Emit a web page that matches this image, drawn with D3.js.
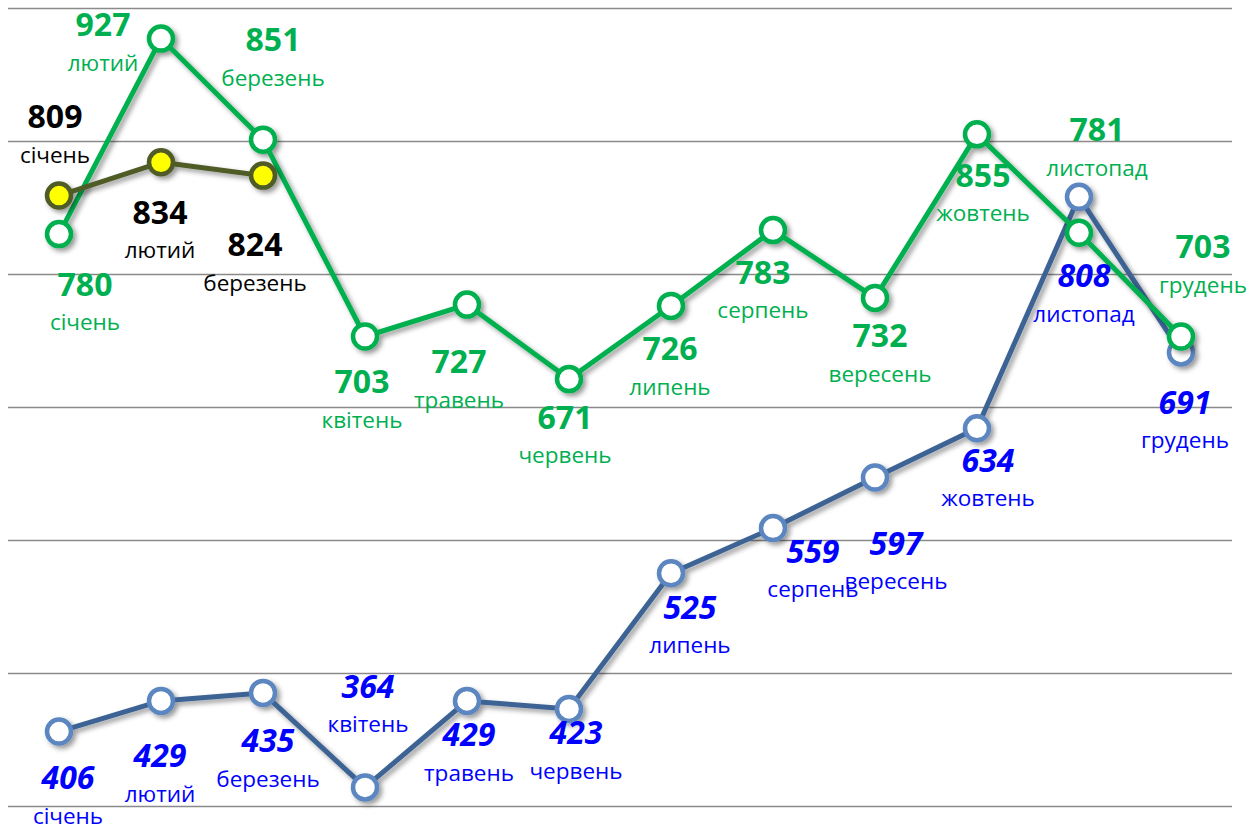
<!DOCTYPE html>
<html>
<head>
<meta charset="utf-8">
<script src="https://cdn.jsdelivr.net/npm/d3@7"></script>
<style>
  body { margin: 0; background: #fff; }
  svg { display: block; font-family: "Open Sans", "Noto Sans", sans-serif; }
</style>
</head>
<body>
<svg class="chart"></svg>
<script>
var width = 1258
var height = 832

// data
var months = ['січень', 'лютий', 'березень', 'квітень', 'травень', 'червень',
  'липень', 'серпень', 'вересень', 'жовтень', 'листопад', 'грудень']
var greenValues = [780, 927, 851, 703, 727, 671, 726, 783, 732, 855, 781, 703]
var blueValues = [406, 429, 435, 364, 429, 423, 525, 559, 597, 634, 808, 691]
var yellowValues = [809, 834, 824]
var gridTicks = [350, 450, 550, 650, 750, 850, 950]

// where each label sits relative to its marker (dx, dy of the number)
var greenLabelPos = [[26, 50], [-58, -14], [10, -100], [-3, 45], [-8, 57], [-4, 38],
  [-1, 43], [-10, 42], [5, 38], [6, 41], [18, -103], [22, -90]]
var blueLabelPos = [[9, 46], [-1, 55], [5, 48], [3, -101], [2, 34], [7, 24],
  [19, 34], [40, 23], [21, 66], [11, 32], [5, 79], [4, 50]]
var yellowLabelPos = [[-4, -79], [-1, 50], [-8, 69]]

var svg = d3.select('.chart')
  .attr('width', width)
  .attr('height', height)

var defs = svg.append('defs')
var f = defs.append('filter').attr('id', 'shadow')
  .attr('x', '-20%').attr('y', '-20%').attr('width', '140%').attr('height', '140%')
f.append('feDropShadow')
  .attr('dx', 3).attr('dy', 3).attr('stdDeviation', 2.5)
  .attr('flood-color', '#000').attr('flood-opacity', 0.4)

var x = d3.scaleBand().domain(months).range([8, 1232])
var y = d3.scaleLinear().domain([350, 950]).range([806, 8])
var cx = function (i) { return x(months[i]) + x.bandwidth() / 2 }

// gridlines
var grid = svg.append('g')
  .attr('transform', 'translate(8,0)')
  .call(d3.axisLeft(y).tickValues(gridTicks).tickSize(-1224).tickFormat(''))
grid.select('.domain').remove()
grid.selectAll('line').attr('stroke', '#8a8a8a').attr('stroke-width', 1.6)

var line = d3.line()
  .x(function (d, i) { return cx(i) })
  .y(function (d) { return y(d) })

function drawSeries(values, lineColor, markerStroke, markerFill) {
  var g = svg.append('g').attr('filter', 'url(#shadow)')
  g.append('path')
    .datum(values)
    .attr('d', line)
    .attr('fill', 'none')
    .attr('stroke', lineColor)
    .attr('stroke-width', 5)
    .attr('stroke-linejoin', 'round')
  g.selectAll('circle')
    .data(values)
    .enter().append('circle')
    .attr('cx', function (d, i) { return cx(i) })
    .attr('cy', function (d) { return y(d) })
    .attr('r', 12)
    .attr('fill', markerFill)
    .attr('stroke', markerStroke)
    .attr('stroke-width', 4.5)
}

drawSeries(blueValues, '#3d6495', '#5b86c0', '#fff')
drawSeries(greenValues, '#00b050', '#00b050', '#fff')
drawSeries(yellowValues, '#4f5b27', '#4f5b27', '#ffff00')

function drawLabels(values, pos, color, italic) {
  var g = svg.append('g')
  var lab = g.selectAll('g')
    .data(values)
    .enter().append('g')
    .attr('transform', function (d, i) {
      return 'translate(' + (cx(i) + pos[i][0]) + ',' + (y(d) + pos[i][1]) + ')'
    })
  lab.append('text')
    .attr('text-anchor', 'middle')
    .attr('dy', 11.5)
    .attr('font-size', 32)
    .attr('font-weight', 'bold')
    .attr('font-style', italic ? 'italic' : 'normal')
    .attr('fill', color)
    .text(function (d) { return d })
  lab.append('text')
    .attr('text-anchor', 'middle')
    .attr('dy', 46)
    .attr('font-size', 22.5)
    .attr('fill', color)
    .text(function (d, i) { return months[i] })
}

drawLabels(greenValues, greenLabelPos, '#00b050', false)
drawLabels(blueValues, blueLabelPos, '#0000ff', true)
drawLabels(yellowValues, yellowLabelPos, '#000', false)
</script>
</body>
</html>
